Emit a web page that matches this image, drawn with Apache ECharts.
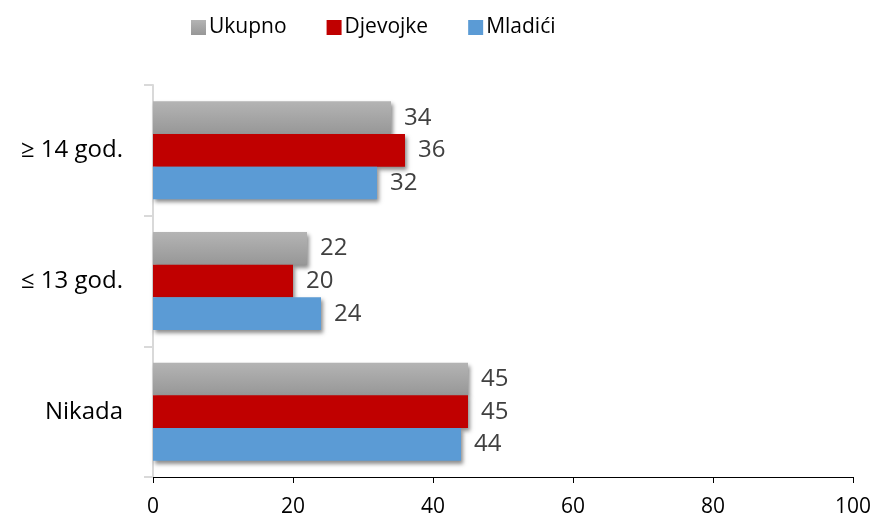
<!DOCTYPE html>
<html>
<head>
<meta charset="utf-8">
<script src="https://cdn.jsdelivr.net/npm/echarts@6/dist/echarts.min.js"></script>
<style>
  html, body { margin: 0; padding: 0; background: #fff; }
  #chart { width: 884px; height: 520px; }
</style>
</head>
<body>
<div id="chart"></div>
<script>
// kategorije odozdo prema gore
const categories = ['Nikada', '≤ 13 god.', '≥ 14 god.'];
const ukupno = [45, 22, 34];
const djevojke = [45, 20, 36];
const mladici = [44, 24, 32];
const xTicks = [0, 20, 40, 60, 80, 100];

const font = '"Open Sans", Lato, sans-serif';

const chart = echarts.init(document.getElementById('chart'));

function barSeries(name, data, color) {
  return {
    name,
    type: 'bar',
    data,
    barGap: '0%',
    barCategoryGap: '25%',
    itemStyle: {
      color,
      shadowColor: 'rgba(0,0,0,0.45)',
      shadowBlur: 4,
      shadowOffsetX: 2,
      shadowOffsetY: 3,
    },
    label: {
      show: true,
      position: 'right',
      distance: 13,
      color: '#404040',
      fontSize: 24,
      fontFamily: font,
    },
  };
}

const greyGrad = new echarts.graphic.LinearGradient(0, 0, 0, 1, [
  { offset: 0, color: '#b4b4b4' },
  { offset: 1, color: '#979797' },
]);

const option = {
  animation: false,
  legend: {
    top: 12,
    left: 186,
    itemWidth: 15,
    itemHeight: 15,
    itemGap: 40,
    icon: 'rect',
    data: ['Ukupno', 'Djevojke', 'Mladići'],
    textStyle: { fontSize: 21, color: '#000', fontFamily: font, padding: [0, 0, 0, -2] },
  },
  grid: {
    left: 153,
    right: 31,
    top: 85,
    bottom: 43,
    containLabel: false,
  },
  xAxis: {
    type: 'value',
    min: 0,
    max: 100,
    interval: 20,
    axisLine: { show: true, lineStyle: { color: '#000', width: 1 } },
    axisTick: { show: true, length: 6, lineStyle: { color: '#000' } },
    splitLine: { show: false },
    axisLabel: {
      margin: 20,
      color: '#000',
      fontSize: 21,
      fontFamily: font,
      formatter: (v) => (xTicks.includes(v) ? String(v) : ''),
    },
  },
  yAxis: {
    type: 'category',
    data: categories,
    axisLine: { show: true, lineStyle: { color: '#d9d9d9', width: 2 } },
    axisTick: { show: true, length: 9, lineStyle: { color: '#d9d9d9', width: 2 } },
    axisLabel: {
      margin: 30,
      color: '#000',
      fontSize: 24,
      fontFamily: font,
    },
  },
  series: [
    barSeries('Ukupno', ukupno, greyGrad),
    barSeries('Djevojke', djevojke, '#c00000'),
    barSeries('Mladići', mladici, '#5b9bd5'),
  ],
};

chart.setOption(option);
</script>
</body>
</html>
